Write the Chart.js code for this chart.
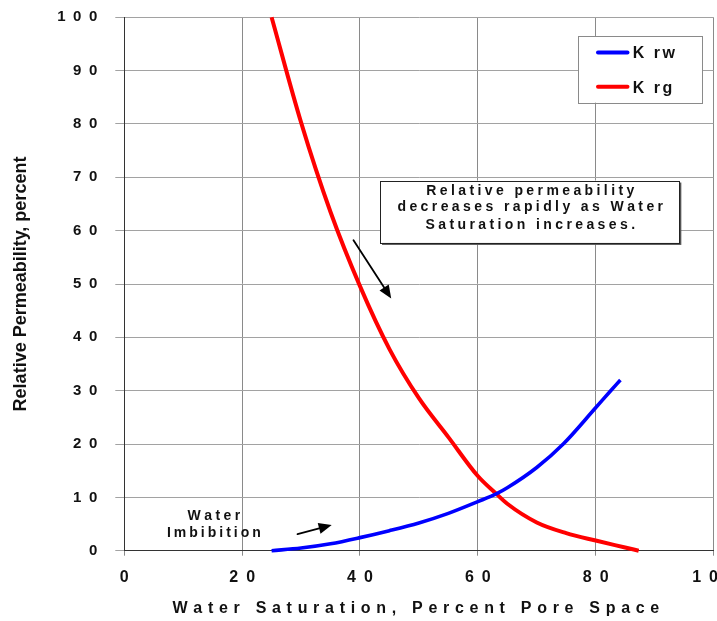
<!DOCTYPE html>
<html>
<head>
<meta charset="utf-8">
<script src="https://cdn.jsdelivr.net/npm/chart.js@4.4.1/dist/chart.umd.min.js"></script>
<style>
  html, body { margin: 0; padding: 0; background: #ffffff; }
  #wrap { width: 717px; height: 621px; }
</style>
</head>
<body>
<div id="wrap"><canvas id="c" width="717" height="621"></canvas></div>
<script>
// Water saturation (% pore space) and relative permeability (%) curves
const krwSaturation = [25, 30, 35, 40, 45, 50, 55, 60, 63.2, 65, 70, 74.5, 80, 82.4, 84.2];
const krwValues     = [0, 0.5, 1.3, 2.45, 3.75, 5.2, 7.0, 9.2, 10.7, 11.8, 15.6, 20.0, 26.8, 29.8, 32.0];

const krgSaturation = [25, 30, 35, 40, 45, 50, 55, 60, 63.2, 65, 70, 75, 80, 85, 87.3];
const krgValues     = [100, 80.3, 63.5, 49.6, 37.8, 28.6, 21.3, 14, 10.6, 8.8, 5.3, 3.3, 1.9, 0.6, 0];

const seriesNames = ['K rw', 'K rg'];
const seriesColors = ['#0000ff', '#ff0000'];

const xTicks = [0, 20, 40, 60, 80, 100];
const yTicks = [0, 10, 20, 30, 40, 50, 60, 70, 80, 90, 100];

const xTitle = 'Water Saturation, Percent Pore Space';
const yTitle = 'Relative Permeability, percent';
const noteLines = ['Relative permeability', 'decreases rapidly as Water', 'Saturation increases.'];
const imbibitionLines = ['Water', 'Imbibition'];

const FONT = '"Liberation Sans", Arial, Helvetica, sans-serif';

function pairs(xs, ys) { return xs.map((x, i) => ({ x: x, y: ys[i] })); }
// spread digits apart the way the axis numbers are set
function spaced(v) { return String(v).split('').join('\u2002'); }

function drawSpaced(ctx, text, cx, cy, spacing) {
  ctx.textAlign = 'left';
  ctx.textBaseline = 'middle';
  let widths = [...text].map(ch => ctx.measureText(ch).width);
  let total = widths.reduce((a, b) => a + b, 0) + spacing * (text.length - 1);
  let x = cx - total / 2;
  [...text].forEach((ch, i) => { ctx.fillText(ch, x, cy); x += widths[i] + spacing; });
}

function arrow(ctx, x1, y1, x2, y2) {
  const ang = Math.atan2(y2 - y1, x2 - x1);
  const headLen = 13, headHalf = 5.5;
  const bx = x2 - headLen * Math.cos(ang), by = y2 - headLen * Math.sin(ang);
  ctx.strokeStyle = '#000'; ctx.fillStyle = '#000'; ctx.lineWidth = 1.8;
  ctx.beginPath(); ctx.moveTo(x1, y1); ctx.lineTo(bx, by); ctx.stroke();
  ctx.beginPath();
  ctx.moveTo(x2, y2);
  ctx.lineTo(bx + headHalf * Math.sin(ang), by - headHalf * Math.cos(ang));
  ctx.lineTo(bx - headHalf * Math.sin(ang), by + headHalf * Math.cos(ang));
  ctx.closePath(); ctx.fill();
}

// titles, legend box and the two callouts, placed in data units
const decorations = {
  id: 'decorations',
  afterDraw(chart) {
    const ctx = chart.ctx, xs = chart.scales.x, ys = chart.scales.y;
    const px = v => xs.getPixelForValue(v), py = v => ys.getPixelForValue(v);
    ctx.save();
    ctx.fillStyle = '#111';

    // axis titles
    ctx.font = 'bold 16px ' + FONT;
    drawSpaced(ctx, xTitle, (px(0) + px(100)) / 2 - 3, 609, 5.7);
    ctx.save();
    ctx.translate(21, (py(0) + py(100)) / 2);
    ctx.rotate(-Math.PI / 2);
    ctx.font = 'bold 18px ' + FONT;
    ctx.textAlign = 'center'; ctx.textBaseline = 'middle';
    ctx.fillText(yTitle, 0, 0);
    ctx.restore();

    // legend
    const lx1 = px(77.0), lx2 = px(98.1), ly1 = py(96.5), ly2 = py(84.0);
    ctx.fillStyle = '#fff';
    ctx.fillRect(lx1, ly1, lx2 - lx1, ly2 - ly1);
    ctx.strokeStyle = '#8a8a8a'; ctx.lineWidth = 1;
    ctx.strokeRect(Math.round(lx1) + 0.5, Math.round(ly1) + 0.5, Math.round(lx2 - lx1), Math.round(ly2 - ly1));
    const rowsY = [93.4, 87.0];
    seriesNames.forEach((name, i) => {
      const y = py(rowsY[i]);
      ctx.strokeStyle = seriesColors[i]; ctx.lineWidth = 4; ctx.lineCap = 'round';
      ctx.beginPath(); ctx.moveTo(px(80.4), y); ctx.lineTo(px(85.4), y); ctx.stroke();
      ctx.fillStyle = '#111';
      ctx.font = 'bold 16px ' + FONT;
      ctx.textAlign = 'left'; ctx.textBaseline = 'middle';
      let x = px(86.3);
      [...name].forEach(ch => { ctx.fillText(ch, x, y + 1.5); x += ctx.measureText(ch).width + 2.5; });
    });

    // note box with shadow
    const bx1 = px(43.4), bx2 = px(94.2), by1 = py(69.4), by2 = py(57.7);
    ctx.fillStyle = '#555';
    ctx.fillRect(bx1 + 2, by1 + 2, bx2 - bx1, by2 - by1);
    ctx.fillStyle = '#fff';
    ctx.fillRect(bx1, by1, bx2 - bx1, by2 - by1);
    ctx.strokeStyle = '#222'; ctx.lineWidth = 1;
    ctx.strokeRect(Math.round(bx1) + 0.5, Math.round(by1) + 0.5, Math.round(bx2 - bx1), Math.round(by2 - by1));
    ctx.fillStyle = '#111';
    ctx.font = 'bold 14px ' + FONT;
    const noteY = [67.5, 64.4, 61.1];
    noteLines.forEach((t, i) => drawSpaced(ctx, t, px(68.9), py(noteY[i]), 3.4));
    arrow(ctx, px(38.9), py(58.2), px(45.3), py(47.3));

    // imbibition callout
    ctx.fillStyle = '#111';
    ctx.font = 'bold 14px ' + FONT;
    drawSpaced(ctx, imbibitionLines[0], px(15.2), py(6.5), 3.4);
    drawSpaced(ctx, imbibitionLines[1], px(15.2), py(3.3), 3.0);
    arrow(ctx, px(29.4), py(3.1), px(35.2), py(4.8));

    ctx.restore();
  }
};

new Chart(document.getElementById('c'), {
  type: 'scatter',
  data: {
    datasets: [
      { label: seriesNames[0], data: pairs(krwSaturation, krwValues), showLine: true,
        borderColor: seriesColors[0], borderWidth: 3.6, pointRadius: 0, fill: false,
        cubicInterpolationMode: 'monotone', clip: false },
      { label: seriesNames[1], data: pairs(krgSaturation, krgValues), showLine: true,
        borderColor: seriesColors[1], borderWidth: 4, pointRadius: 0, fill: false,
        cubicInterpolationMode: 'monotone', clip: false }
    ]
  },
  options: {
    responsive: false,
    animation: false,
    devicePixelRatio: 1,
    layout: { padding: { left: 0, right: 3.5, top: 17.3, bottom: 0 } },
    plugins: { legend: { display: false }, tooltip: { enabled: false }, title: { display: false } },
    scales: {
      x: {
        type: 'linear', min: 0, max: 100,
        afterBuildTicks: s => { s.ticks = xTicks.map(v => ({ value: v })); },
        afterFit: s => { s.height = 70.3; s.paddingLeft = 0; s.paddingRight = 0; },
        ticks: { callback: v => spaced(v), color: '#111', font: { family: FONT, size: 16, weight: 'bold' },
                 padding: 12, maxRotation: 0, autoSkip: false },
        grid: { color: '#8a8a8a', lineWidth: 1, tickLength: 5, drawTicks: true },
        border: { color: '#333', width: 1 }
      },
      y: {
        type: 'linear', min: 0, max: 100,
        afterBuildTicks: s => { s.ticks = yTicks.map(v => ({ value: v })); },
        afterFit: s => { s.width = 124.3; s.paddingTop = 0; s.paddingBottom = 0; },
        ticks: { callback: v => spaced(v), color: '#111', font: { family: FONT, size: 15, weight: 'bold' },
                 padding: 18, autoSkip: false },
        grid: { color: '#a2a2a2', lineWidth: 1, tickLength: 9, drawTicks: true },
        border: { color: '#333', width: 1 }
      }
    }
  },
  plugins: [decorations]
});
</script>
</body>
</html>
